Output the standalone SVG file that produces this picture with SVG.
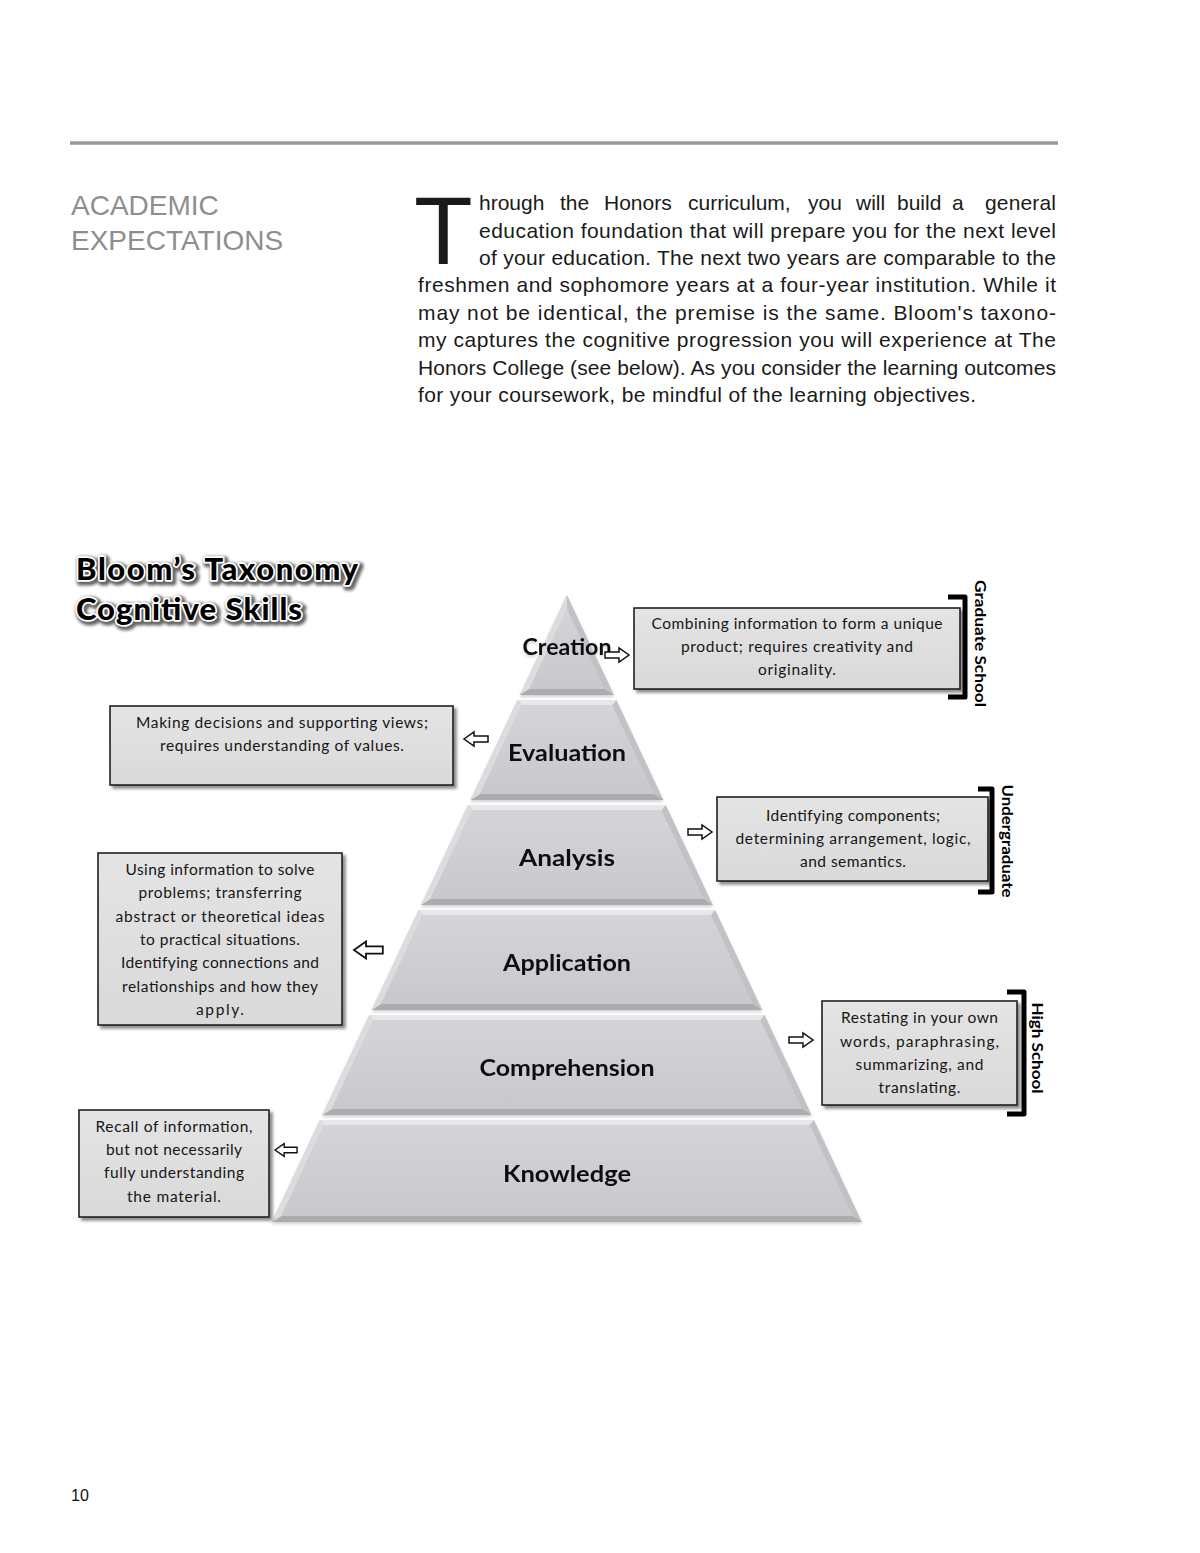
<svg xmlns="http://www.w3.org/2000/svg" width="1200" height="1553" viewBox="0 0 1200 1553">
<style>
.hd{font-family:"Liberation Sans",Arial,sans-serif;font-size:28px;fill:#8e8e8e}
.p{font-family:"Liberation Sans",Arial,sans-serif;font-size:21px;fill:#1a1a1a}
.lvl{font-family:Lato,"Open Sans",sans-serif;font-weight:700;font-size:23px;fill:#111;text-anchor:middle}
.bt{font-family:Lato,"Open Sans",sans-serif;font-size:15.5px;fill:#151515;text-anchor:middle}
.box{fill:url(#boxg);stroke:#1e1e1e;stroke-width:1.6;filter:url(#bsh)}
.ft{fill:#e8e8eb}.fl{fill:#dcdcdf}.fr{fill:#c2c2c6}.fb{fill:#acacb0}.face{fill:url(#faceg)}
.arr{fill:#fff;stroke:#111;stroke-width:1.5;stroke-linejoin:miter}
.brk{fill:none;stroke:#000;stroke-width:5;stroke-linejoin:round}
.bl{font-family:Lato,"Open Sans",sans-serif;font-weight:700;font-size:16px;fill:#000;text-anchor:middle}
.tt{font-family:Lato,"DejaVu Sans",sans-serif;font-weight:900;font-size:31px}
</style>
<defs>
<linearGradient id="boxg" x1="0" y1="0" x2="0" y2="1"><stop offset="0" stop-color="#e4e4e4"/><stop offset="1" stop-color="#d9d9d9"/></linearGradient>
<linearGradient id="faceg" x1="0" y1="0" x2="0" y2="1"><stop offset="0" stop-color="#d4d4d8"/><stop offset="1" stop-color="#c9c9cd"/></linearGradient>
<filter id="bsh" x="-10%" y="-10%" width="125%" height="130%"><feDropShadow dx="3" dy="3" stdDeviation="1.6" flood-color="#000" flood-opacity="0.45"/></filter>
<filter id="psh" x="-10%" y="-10%" width="120%" height="130%"><feDropShadow dx="0" dy="2" stdDeviation="1.5" flood-color="#000" flood-opacity="0.18"/></filter>
<filter id="tsh" x="-10%" y="-30%" width="120%" height="160%"><feGaussianBlur stdDeviation="1.8"/></filter>
<path id="ra" d="M0,-3 H14 V-7 L24,0 L14,7 V3 H0 Z"/>
<path id="la" d="M24,-3 H10 V-7 L0,0 L10,7 V3 H24 Z"/>
</defs>
<rect width="1200" height="1553" fill="#fff"/>

<g id="header">
<line x1="70" y1="143" x2="1058" y2="143" stroke="#9a9a9a" stroke-width="3.5"/>
<text class="hd" x="71" y="215">ACADEMIC</text>
<text class="hd" x="71" y="250">EXPECTATIONS</text>
</g>

<g id="paragraph">
<text class="p" x="414" y="264" style="font-size:96px">T</text>
<text class="p" y="210"><tspan x="479">hrough</tspan><tspan x="560">the</tspan><tspan x="604">Honors</tspan><tspan x="688">curriculum,</tspan><tspan x="808">you</tspan><tspan x="856">will</tspan><tspan x="897">build</tspan><tspan x="952">a</tspan><tspan x="985" textLength="71" lengthAdjust="spacing">general</tspan></text>
<text class="p" x="479" y="238" textLength="577" lengthAdjust="spacing">education foundation that will prepare you for the next level</text>
<text class="p" x="479" y="265" textLength="577" lengthAdjust="spacing">of your education. The next two years are comparable to the</text>
<text class="p" x="418" y="292" textLength="638" lengthAdjust="spacing">freshmen and sophomore years at a four-year institution. While it</text>
<text class="p" x="418" y="320" textLength="638" lengthAdjust="spacing">may not be identical, the premise is the same. Bloom's taxono-</text>
<text class="p" x="418" y="347" textLength="638" lengthAdjust="spacing">my captures the cognitive progression you will experience at The</text>
<text class="p" x="418" y="375" textLength="638" lengthAdjust="spacing">Honors College (see below). As you consider the learning outcomes</text>
<text class="p" x="418" y="402" textLength="558" lengthAdjust="spacing">for your coursework, be mindful of the learning objectives.</text>
</g>

<g id="title">
<g filter="url(#tsh)" opacity="0.75" transform="translate(2,2)">
<text class="tt" x="76" y="580" textLength="282" lengthAdjust="spacing" fill="#333" stroke="#333" stroke-width="7" stroke-linejoin="round">Bloom’s Taxonomy</text>
<text class="tt" x="76" y="620" textLength="226" lengthAdjust="spacing" fill="#333" stroke="#333" stroke-width="7" stroke-linejoin="round">Cognitive Skills</text>
</g>
<text class="tt" x="76" y="580" textLength="282" lengthAdjust="spacing" fill="#000" stroke="#fff" stroke-width="3.5" stroke-linejoin="round" paint-order="stroke">Bloom’s Taxonomy</text>
<text class="tt" x="76" y="620" textLength="226" lengthAdjust="spacing" fill="#000" stroke="#fff" stroke-width="3.5" stroke-linejoin="round" paint-order="stroke">Cognitive Skills</text>
</g>

<g id="pyramid">
<g id="level-creation" filter="url(#psh)">
<path class="fr" d="M567,595 L614.05,695 L519.95,695 Z"/>
<path class="fl" d="M519.95,695 L567,595 L567,609 L529.4,689 Z"/>
<path class="fb" d="M614.05,695 L519.95,695 L529.4,689 L604.6,689 Z"/>
<path class="face" d="M567,609 L604.6,689 L529.4,689 Z"/>
<text class="lvl" x="567" y="655" textLength="89" lengthAdjust="spacingAndGlyphs">Creation</text>
</g>
<g id="level-evaluation" filter="url(#psh)">
<path class="fr" d="M517.6,700 L616.4,700 L663.45,800 L470.55,800 Z"/>
<path class="ft" d="M517.6,700 L616.4,700 L612.16,705 L521.84,705 Z"/>
<path class="fb" d="M663.45,800 L470.55,800 L479.97,794 L654.03,794 Z"/>
<path class="fl" d="M470.55,800 L517.6,700 L521.84,705 L479.97,794 Z"/>
<path class="face" d="M521.84,705 L612.16,705 L654.03,794 L479.97,794 Z"/>
<text class="lvl" x="567" y="761" textLength="118" lengthAdjust="spacingAndGlyphs">Evaluation</text>
</g>
<g id="level-analysis" filter="url(#psh)">
<path class="fr" d="M468.2,805 L665.8,805 L712.86,905 L421.14,905 Z"/>
<path class="ft" d="M468.2,805 L665.8,805 L661.56,810 L472.44,810 Z"/>
<path class="fb" d="M712.86,905 L421.14,905 L430.57,899 L703.43,899 Z"/>
<path class="fl" d="M421.14,905 L468.2,805 L472.44,810 L430.57,899 Z"/>
<path class="face" d="M472.44,810 L661.56,810 L703.43,899 L430.57,899 Z"/>
<text class="lvl" x="567" y="866" textLength="96" lengthAdjust="spacingAndGlyphs">Analysis</text>
</g>
<g id="level-application" filter="url(#psh)">
<path class="fr" d="M418.79,910 L715.21,910 L762.26,1010 L371.74,1010 Z"/>
<path class="ft" d="M418.79,910 L715.21,910 L710.96,915 L423.04,915 Z"/>
<path class="fb" d="M762.26,1010 L371.74,1010 L381.17,1004 L752.83,1004 Z"/>
<path class="fl" d="M371.74,1010 L418.79,910 L423.04,915 L381.17,1004 Z"/>
<path class="face" d="M423.04,915 L710.96,915 L752.83,1004 L381.17,1004 Z"/>
<text class="lvl" x="567" y="971" textLength="128" lengthAdjust="spacingAndGlyphs">Application</text>
</g>
<g id="level-comprehension" filter="url(#psh)">
<path class="fr" d="M369.39,1015 L764.61,1015 L811.66,1115 L322.34,1115 Z"/>
<path class="ft" d="M369.39,1015 L764.61,1015 L760.36,1020 L373.64,1020 Z"/>
<path class="fb" d="M811.66,1115 L322.34,1115 L331.76,1109 L802.24,1109 Z"/>
<path class="fl" d="M322.34,1115 L369.39,1015 L373.64,1020 L331.76,1109 Z"/>
<path class="face" d="M373.64,1020 L760.36,1020 L802.24,1109 L331.76,1109 Z"/>
<text class="lvl" x="567" y="1076" textLength="175" lengthAdjust="spacingAndGlyphs">Comprehension</text>
</g>
<g id="level-knowledge" filter="url(#psh)">
<path class="fr" d="M319.99,1120 L814.01,1120 L862,1222 L272,1222 Z"/>
<path class="ft" d="M319.99,1120 L814.01,1120 L809.77,1125 L324.23,1125 Z"/>
<path class="fb" d="M862,1222 L272,1222 L281.42,1216 L852.58,1216 Z"/>
<path class="fl" d="M272,1222 L319.99,1120 L324.23,1125 L281.42,1216 Z"/>
<path class="face" d="M324.23,1125 L809.77,1125 L852.58,1216 L281.42,1216 Z"/>
<text class="lvl" x="567" y="1182" textLength="128" lengthAdjust="spacingAndGlyphs">Knowledge</text>
</g>
</g>

<g id="box-creation">
<rect class="box" x="634" y="608" width="326" height="81"/>
<text class="bt" x="797" y="629" textLength="291" lengthAdjust="spacing">Combining information to form a unique</text>
<text class="bt" x="797" y="652" textLength="232" lengthAdjust="spacing">product; requires creativity and</text>
<text class="bt" x="797" y="675" textLength="78" lengthAdjust="spacing">originality.</text>
</g>
<g id="box-evaluation">
<rect class="box" x="110" y="706" width="343" height="79"/>
<text class="bt" x="282" y="728" textLength="292" lengthAdjust="spacing">Making decisions and supporting views;</text>
<text class="bt" x="282" y="751" textLength="244" lengthAdjust="spacing">requires understanding of values.</text>
</g>
<g id="box-analysis">
<rect class="box" x="717" y="797" width="271" height="84"/>
<text class="bt" x="853" y="821" textLength="174" lengthAdjust="spacing">Identifying components;</text>
<text class="bt" x="853" y="844" textLength="235" lengthAdjust="spacing">determining arrangement, logic,</text>
<text class="bt" x="853" y="867" textLength="106" lengthAdjust="spacing">and semantics.</text>
</g>
<g id="box-application">
<rect class="box" x="98" y="853" width="244" height="172"/>
<text class="bt" x="220" y="875" textLength="189" lengthAdjust="spacing">Using information to solve</text>
<text class="bt" x="220" y="898" textLength="163" lengthAdjust="spacing">problems; transferring</text>
<text class="bt" x="220" y="922" textLength="209" lengthAdjust="spacing">abstract or theoretical ideas</text>
<text class="bt" x="220" y="945" textLength="160" lengthAdjust="spacing">to practical situations.</text>
<text class="bt" x="220" y="968" textLength="198" lengthAdjust="spacing">Identifying connections and</text>
<text class="bt" x="220" y="992" textLength="196" lengthAdjust="spacing">relationships and how they</text>
<text class="bt" x="220" y="1015" textLength="48" lengthAdjust="spacing">apply.</text>
</g>
<g id="box-comprehension">
<rect class="box" x="822" y="1001" width="195" height="104"/>
<text class="bt" x="919.5" y="1023" textLength="157" lengthAdjust="spacing">Restating in your own</text>
<text class="bt" x="919.5" y="1047" textLength="159" lengthAdjust="spacing">words, paraphrasing,</text>
<text class="bt" x="919.5" y="1070" textLength="128" lengthAdjust="spacing">summarizing, and</text>
<text class="bt" x="919.5" y="1093" textLength="82" lengthAdjust="spacing">translating.</text>
</g>
<g id="box-knowledge">
<rect class="box" x="79" y="1110" width="190" height="107"/>
<text class="bt" x="174" y="1132" textLength="157" lengthAdjust="spacing">Recall of information,</text>
<text class="bt" x="174" y="1155" textLength="136" lengthAdjust="spacing">but not necessarily</text>
<text class="bt" x="174" y="1178" textLength="140" lengthAdjust="spacing">fully understanding</text>
<text class="bt" x="174" y="1202" textLength="94" lengthAdjust="spacing">the material.</text>
</g>

<g id="connectors">
<use href="#ra" class="arr" transform="translate(605,655)"/>
<use href="#la" class="arr" transform="translate(464,739)"/>
<use href="#ra" class="arr" transform="translate(688,832)"/>
<use href="#la" class="arr" transform="translate(354,950) scale(1.2)"/>
<use href="#ra" class="arr" transform="translate(789,1040)"/>
<use href="#la" class="arr" transform="translate(275,1150) scale(0.92)"/>
</g>

<g id="bracket-graduate">
<path class="brk" d="M948,597 H965 V697 H948"/>
<text class="bl" transform="translate(975,643.5) rotate(90)" textLength="127" lengthAdjust="spacingAndGlyphs">Graduate School</text>
</g>
<g id="bracket-undergraduate">
<path class="brk" d="M978,789 H992 V892 H978"/>
<text class="bl" transform="translate(1002,841) rotate(90)" textLength="113" lengthAdjust="spacingAndGlyphs">Undergraduate</text>
</g>
<g id="bracket-highschool">
<path class="brk" d="M1007,992 H1024 V1114 H1007"/>
<text class="bl" transform="translate(1032,1048) rotate(90)" textLength="91" lengthAdjust="spacingAndGlyphs">High School</text>
</g>

<text x="71" y="1501" font-family="Liberation Sans, Arial, sans-serif" font-size="16" fill="#111">10</text>
</svg>
